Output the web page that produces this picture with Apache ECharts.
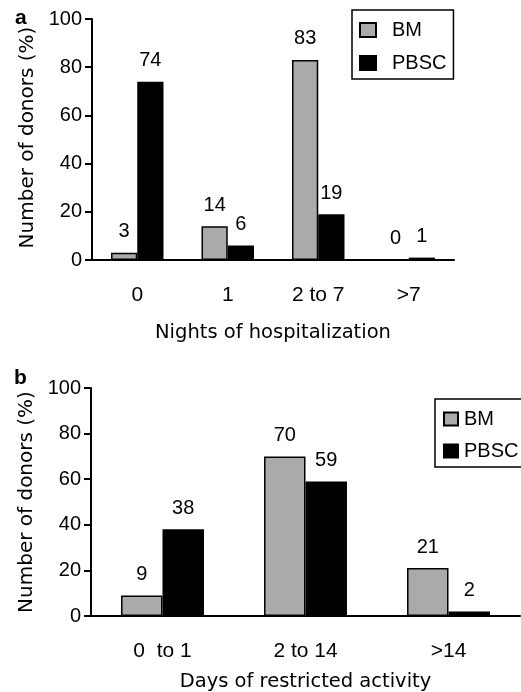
<!DOCTYPE html>
<html>
<head>
<meta charset="utf-8">
<script src="https://cdn.jsdelivr.net/npm/echarts@6/dist/echarts.min.js"></script>
<style>
  html, body { margin: 0; padding: 0; background: #fff; }
  #main { width: 521px; height: 692px; }
</style>
</head>
<body>
<div id="main"></div>
<script>
const hospCategories = ['0', '1', '2 to 7', '>7'];
const hospBM = [3, 14, 83, 0];
const hospPBSC = [74, 6, 19, 1];

const activityCategories = ['0  to 1', '2 to 14', '>14'];
const activityBM = [9, 70, 21];
const activityPBSC = [38, 59, 2];

const yTicks = [0, 20, 40, 60, 80, 100];

const FONT = 'Liberation Sans, Arial, Helvetica, sans-serif';
const NAME_FONT = 'DejaVu Sans, Liberation Sans, sans-serif';
const GRAY = '#aaaaaa';

const chart = echarts.init(document.getElementById('main'));

function yAxisFor(gridIndex, nameGap, namePad) {
    return {
        type: 'value',
        gridIndex: gridIndex,
        min: yTicks[0],
        max: yTicks[yTicks.length - 1],
        interval: yTicks[1] - yTicks[0],
        name: 'Number of donors (%)',
        nameLocation: 'middle',
        nameGap: nameGap,
        nameRotate: 90,
        nameTextStyle: { color: '#000', fontSize: 20, fontFamily: NAME_FONT, padding: namePad },
        axisLine: { show: true, lineStyle: { color: '#000', width: 2 } },
        axisTick: { show: true, length: 7, lineStyle: { color: '#000', width: 2 } },
        axisLabel: { color: '#000', fontSize: 20, margin: 10, fontFamily: FONT },
        splitLine: { show: false }
    };
}

function xAxisFor(gridIndex, data, name, nameGap) {
    return {
        type: 'category',
        gridIndex: gridIndex,
        data: data,
        name: name,
        nameLocation: 'middle',
        nameGap: nameGap,
        nameTextStyle: { color: '#000', fontSize: 19.5, fontFamily: NAME_FONT },
        axisLine: { lineStyle: { color: '#000', width: 2 } },
        axisTick: { length: 8, lineStyle: { color: '#000', width: 2 } },
        axisLabel: { color: '#000', fontSize: 21, margin: 25, interval: 0, fontFamily: FONT }
    };
}

function barSeries(name, axisIndex, data, color) {
    return {
        name: name,
        type: 'bar',
        xAxisIndex: axisIndex,
        yAxisIndex: axisIndex,
        data: data,
        barWidth: '29%',
        barGap: '0%',
        itemStyle: { color: color, borderColor: '#000', borderWidth: 1.5 },
        label: {
            show: true,
            position: 'top',
            distance: 11,
            color: '#000',
            fontSize: 20,
            fontFamily: FONT
        },
        animation: false
    };
}

function legendAt(left, top, itemWidth, itemHeight, itemGap, textGap, padding) {
    return {
        orient: 'vertical',
        left: left,
        top: top,
        data: ['BM', 'PBSC'],
        icon: 'rect',
        itemWidth: itemWidth,
        itemHeight: itemHeight,
        itemGap: itemGap,
        padding: padding,
        borderColor: '#000',
        borderWidth: 1.5,
        selectedMode: false,
        textStyle: { color: '#000', fontSize: 20, fontFamily: FONT, padding: [0, 0, 0, textGap] }
    };
}

const option = {
    animation: false,
    title: [
        { text: 'a', left: 15, top: 8, padding: 0, textStyle: { fontSize: 21, fontWeight: 'bold', color: '#000', fontFamily: FONT } },
        { text: 'b', left: 14, top: 368, padding: 0, textStyle: { fontSize: 21, fontWeight: 'bold', color: '#000', fontFamily: FONT } }
    ],
    legend: [
        legendAt(352, 10, 16, 14, 13, 11, [10, 7, 6, 7]),
        legendAt(435, 399, 14, 13, 12, 1, [10, 8, 6, 8])
    ],
    grid: [
        { left: 92, top: 19, width: 362, height: 241, containLabel: false, outerBoundsMode: 'none' },
        { left: 91, top: 388, width: 429, height: 228, containLabel: false, outerBoundsMode: 'none' }
    ],
    xAxis: [
        xAxisFor(0, hospCategories, 'Nights of hospitalization', 63),
        xAxisFor(1, activityCategories, 'Days of restricted activity', 56)
    ],
    yAxis: [yAxisFor(0, 54, [0, 0, 0, 4]), yAxisFor(1, 54, 0)],
    series: [
        barSeries('BM', 0, hospBM, GRAY),
        barSeries('PBSC', 0, hospPBSC, '#000'),
        barSeries('BM', 1, activityBM, GRAY),
        barSeries('PBSC', 1, activityPBSC, '#000')
    ]
};

chart.setOption(option);
</script>
</body>
</html>
